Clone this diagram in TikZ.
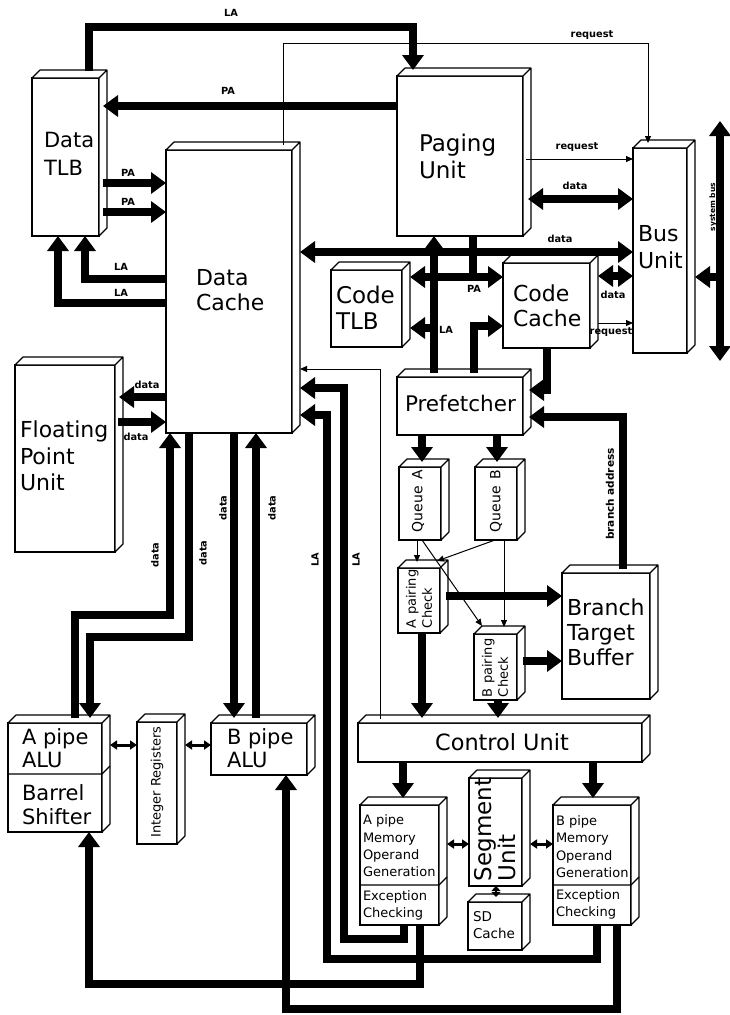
\documentclass[tikz,border=0pt]{standalone}
\usepackage{fontspec}
\setmainfont{DejaVu Sans}
\usetikzlibrary{arrows.meta,calc}
\newcommand\fsz[2]{\fontsize{#1}{#2}\selectfont}
\newcommand\mycube[5]{%
 \pgfmathsetmacro\cw{#4-#2}\pgfmathsetmacro\ch{#5-#3}%
 \node[box,minimum width=\cw pt,minimum height=\ch pt] (#1) at (#2,#3) {};
 \draw[face] (#1.north west) -- ++(8,-8) -- ($(#1.north east)+(8,-8)$) -- ($(#1.south east)+(8,-8)$) -- (#1.south east) -- (#1.north east) -- cycle (#1.north east) -- ++(8,-8);
}
\tikzset{
 big/.tip={Triangle[width=21pt,length=15pt]},
 sml/.tip={Triangle[width=6pt,length=7pt]},
 mid/.tip={Triangle[width=9pt,length=7pt]},
 dia/.tip={Triangle[width=9pt,length=5pt]},
 box/.style={draw,fill=white,line width=1.1pt,inner sep=0pt,outer sep=0pt,anchor=north west},
 face/.style={draw,fill=white,line width=1.1pt,line join=round},
 bus/.style={line width=7.5pt},
 thin1/.style={line width=1pt},
 mid2/.style={line width=3pt},
 lab/.style={inner sep=0pt,outer sep=0pt,align=left,anchor=west},
 sl/.style={font=\bfseries\fsz{9.8}{10},inner sep=0pt},
}
\begin{document}
\begin{tikzpicture}[x=1pt,y=-1pt]
\fill[white] (0,0) rectangle (729,1015);
\useasboundingbox (0,0) rectangle (729,1015);

% ---------- boxes ----------
\mycube{dtlb}{32}{78}{99}{236}
\mycube{dcache}{166}{150}{292}{433}
\mycube{fpu}{15}{365}{115}{552}
\mycube{paging}{397}{76}{523}{236}
\mycube{bus}{633}{148}{687}{353}
\mycube{ctlb}{331}{270}{402}{347}
\mycube{ccache}{503}{263}{590}{348}
\mycube{pref}{397}{377}{523}{435}
\mycube{qa}{399}{467}{441}{540}
\mycube{qb}{475}{467}{517}{540}
\mycube{apc}{398}{568}{440}{633}
\mycube{bpc}{474}{634}{517}{700}
\mycube{btb}{562}{573}{650}{699}
\mycube{cu}{358}{723}{642}{762}
\mycube{amog}{360}{805}{439}{925}
\mycube{seg}{469}{778}{522}{886}
\mycube{sdc}{468}{902}{522}{950}
\mycube{bmog}{553}{805}{631}{925}
\mycube{aalu}{8}{723}{102}{832}
\mycube{ireg}{137}{722}{177}{844}
\mycube{balu}{211}{723}{307}{775}
\draw[line width=1.1pt] (aalu.west |- 0,774) -- (aalu.east |- 0,774) -- ++(8,-8);
\draw[line width=1.1pt] (amog.west |- 0,885) -- (amog.east |- 0,885) -- ++(8,-8);
\draw[line width=1.1pt] (bmog.west |- 0,885) -- (bmog.east |- 0,885) -- ++(8,-8);

% ---------- box texts ----------
\node[lab,font=\fsz{21}{28}] (dtlbT) at (44,154) {Data\\TLB};
\node[lab,font=\fsz{22}{25}] (dcacheT) at (196,290) {Data\\Cache};
\node[lab,font=\fsz{23}{27}] (pagT) at (419,156.5) {Paging\\Unit};
\node[lab,font=\fsz{22}{27}] (busT) at (638,247) {Bus\\Unit};
\node[lab,font=\fsz{22}{26.5}] (fpuT) at (20,456) {Floating\\Point\\Unit};
\node[lab,font=\fsz{23}{26}] (ctlbT) at (336,308) {Code\\TLB};
\node[lab,font=\fsz{22}{25}] (ccacheT) at (513,305.5) {Code\\Cache};
\node[lab,font=\fsz{21.5}{25}] (prefT) at (405,403) {Prefetcher};
\node[inner sep=0pt,font=\fsz{22.4}{25}] (cuT) at (502,742) {Control Unit};
\node[lab,font=\fsz{22}{25}] (btbT) at (567,632) {Branch\\Target\\Buffer};
\node[lab,font=\fsz{21}{23}] (aaluT) at (22,748.5) {A pipe\\ALU};
\node[lab,font=\fsz{21}{24}] (abarT) at (22,805) {Barrel\\Shifter};
\node[lab,font=\fsz{21}{23}] (baluT) at (227,748.5) {B pipe\\ALU};
\node[lab,font=\fsz{13}{17.3}] (amogT) at (363,846) {A pipe\\Memory\\Operand\\Generation};
\node[lab,font=\fsz{13}{17}] (aexcT) at (363,905.5) {Exception\\Checking};
\node[lab,font=\fsz{13}{17.3}] (bmogT) at (556,846.5) {B pipe\\Memory\\Operand\\Generation};
\node[lab,font=\fsz{13}{17}] (bexcT) at (556,904.5) {Exception\\Checking};
\node[lab,font=\fsz{13.5}{17}] (sdcT) at (473,925.5) {SD\\Cache};
\node[inner sep=0pt,rotate=90,font=\fsz{14}{16}] (qaT) at (418,501) {Queue\enspace A};
\node[inner sep=0pt,rotate=90,font=\fsz{14}{16}] (qbT) at (496,501) {Queue\enspace B};
\node[lab,rotate=90,font=\fsz{13}{16}] (apcT) at (419,628) {A pairing\\Check};
\node[lab,rotate=90,font=\fsz{13}{16}] (bpcT) at (495,697) {B pairing\\Check};
\node[lab,rotate=90,font=\fsz{23}{24}] (segT) at (495,881) {Segment\\Unit};
\node[inner sep=0pt,rotate=90,font=\fsz{13}{15}] (iregT) at (157,782) {Integer Registers};

% ---------- connectors ----------
% LA: Data TLB -> Paging Unit
\draw[bus,-big] ($(89,0 |- dtlb.north)+(0,-7)$) -- (89,27) -- (413,27) -- ($(413,0 |- paging.north)+(0,-6)$);
% PA: Paging -> Data TLB
\draw[bus,-big] (paging.west |- 0,106) -- ($(dtlb.east |- 0,106)+(4,0)$);
% request: Data Cache -> Bus Unit
\draw[thin1,-sml] ($(283,0 |- dcache.north)+(0,-5)$) -- (283,43) -- (648,43) -- ($(648,0 |- bus.north)+(0,-5)$);
% PA: Data TLB -> Data Cache
\draw[bus,-big] ($(dtlb.east |- 0,183)+(4,0)$) -- (dcache.west |- 0,183);
\draw[bus,-big] ($(dtlb.east |- 0,212)+(4,0)$) -- (dcache.west |- 0,212);
% LA: Data Cache -> Data TLB
\draw[bus,-big] (dcache.west |- 0,279) -- (85,279) -- (85,0 |- dtlb.south);
\draw[bus,-big] (dcache.west |- 0,303) -- (58,303) -- (58,0 |- dtlb.south);
% Paging <-> Bus
\draw[thin1,-sml] ($(paging.east |- 0,159)+(3,0)$) -- (bus.west |- 0,159);
\draw[bus,big-big] ($(paging.east |- 0,199)+(5,0)$) -- (bus.west |- 0,199);
% data: Data Cache <-> Bus Unit
\draw[bus,big-big] ($(dcache.east |- 0,252)+(8,0)$) -- (bus.west |- 0,252);
% PA: Paging -> Code TLB / Code Cache
\draw[bus] (473,0 |- paging.south) -- (473,277);
\draw[bus,big-big] ($(ctlb.east |- 0,277)+(8,0)$) -- (ccache.west |- 0,277);
% LA: Prefetcher -> Paging, Code TLB
\draw[bus,-big] ($(434,0 |- pref.north)+(0,-4)$) -- (434,0 |- paging.south);
\draw[bus,-big] (434,328) -- ($(ctlb.east |- 0,328)+(8,0)$);
% Prefetcher -> Code Cache
\draw[bus,-big] ($(474,0 |- pref.north)+(0,-4)$) -- (474,326) -- (ccache.west |- 0,326);
% Code Cache <-> Bus Unit
\draw[bus,big-big] ($(ccache.east |- 0,276)+(8,0)$) -- (bus.west |- 0,276);
\draw[thin1,-sml] ($(ccache.east |- 0,323)+(8,0)$) -- (bus.west |- 0,323);
% Code Cache -> Prefetcher
\draw[bus,-big] (547,0 |- ccache.south) -- (547,390) -- ($(pref.east |- 0,390)+(6,0)$);
% branch address
\draw[bus,-big] ($(623,0 |- btb.north)+(0,-4)$) -- (623,417) -- ($(pref.east |- 0,417)+(6,0)$);
% Prefetcher -> Queues
\draw[bus,-big] (422,0 |- pref.south) -- ($(422,0 |- qa.north)+(0,-5)$);
\draw[bus,-big] (497,0 |- pref.south) -- ($(497,0 |- qb.north)+(0,-5)$);
% Queues -> pairing checks
\draw[thin1,-sml] (417,0 |- qa.south) -- ($(417,0 |- apc.north)+(0,-6)$);
\draw[thin1,-sml] (422,0 |- qa.south) -- ($(482,0 |- bpc.north)+(0,-8)$);
\draw[thin1,-sml] (495,0 |- qb.south) -- ($(437,0 |- apc.north)+(0,-7)$);
\draw[thin1,-sml] (504,0 |- qb.south) -- ($(504,0 |- bpc.north)+(0,-7)$);
% pairing checks -> BTB
\draw[bus,-big] ($(apc.east |- 0,596)+(6,0)$) -- (btb.west |- 0,596);
\draw[bus,-big] ($(bpc.east |- 0,661)+(6,0)$) -- (btb.west |- 0,661);
% pairing checks -> Control Unit
\draw[bus,-big] (422,0 |- apc.south) -- ($(422,0 |- cu.north)+(0,-5)$);
\draw[bus,-big] (498,0 |- bpc.south) -- ($(498,0 |- cu.north)+(0,-5)$);
% Control Unit -> MOGs
\draw[bus,-big] (403,0 |- cu.south) -- ($(403,0 |- amog.north)+(0,-7)$);
\draw[bus,-big] (593,0 |- cu.south) -- ($(593,0 |- bmog.north)+(0,-7)$);
% MOG <-> Segment, Segment <-> SD Cache
\draw[mid2,mid-mid] ($(amog.east |- 0,844)+(8,0)$) -- (seg.west |- 0,844);
\draw[mid2,mid-mid] ($(seg.east |- 0,844)+(8,0)$) -- (bmog.west |- 0,844);
\draw[line width=2pt,dia-dia] (496,0 |- seg.south) -- ($(496,0 |- sdc.north)+(0,-5)$);
% ALU <-> Integer Registers
\draw[mid2,mid-mid] ($(aalu.east |- 0,745)+(8,0)$) -- (ireg.west |- 0,745);
\draw[mid2,mid-mid] ($(ireg.east |- 0,745)+(8,0)$) -- (balu.west |- 0,745);
% Control Unit -> Data Cache (thin)
\draw[thin1,-sml] ($(380,0 |- cu.north)+(0,-4)$) -- (380,369) -- ($(dcache.east |- 0,369)+(8,0)$);
% LA: MOGs -> Data Cache
\draw[bus,-big] (404,0 |- amog.south) -- (404,939) -- (344,939) -- (344,388) -- ($(dcache.east |- 0,388)+(8,0)$);
\draw[bus,-big] (597,0 |- bmog.south) -- (597,959) -- (327,959) -- (327,415) -- ($(dcache.east |- 0,415)+(8,0)$);
% MOGs -> ALUs
\draw[bus,-big] (420,0 |- amog.south) -- (420,984) -- (89,984) -- (89,0 |- aalu.south);
\draw[bus,-big] (617,0 |- bmog.south) -- (617,1009) -- (286,1009) -- (286,0 |- balu.south);
% data: ALUs <-> Data Cache
\draw[bus,-big] ($(75,0 |- aalu.north)+(0,-5)$) -- (75,615) -- (170,615) -- (170,0 |- dcache.south);
\draw[bus,-big] (189,0 |- dcache.south) -- (189,637) -- (90,637) -- ($(90,0 |- aalu.north)+(0,-5)$);
\draw[bus,-big] (234,0 |- dcache.south) -- ($(234,0 |- balu.north)+(0,-5)$);
\draw[bus,-big] ($(256,0 |- balu.north)+(0,-5)$) -- (256,0 |- dcache.south);
% data: Data Cache <-> FPU
\draw[bus,-big] (dcache.west |- 0,397) -- ($(fpu.east |- 0,397)+(4,0)$);
\draw[bus,-big] ($(fpu.east |- 0,422)+(3,0)$) -- (dcache.west |- 0,422);
% system bus
\coordinate (sbtop) at (720,121);
\coordinate (sbbot) at (720,361);
\coordinate (sbmid) at (720,277);
\draw[bus,big-big] (sbtop) -- (sbbot);
\draw[bus,-big] (sbmid) -- ($(bus.east |- sbmid)+(8,0)$);

% ---------- connector labels ----------
\node[sl] (laTop) at (231,13) {LA};
\node[sl] (paTop) at (228,91) {PA};
\node[sl] (reqTop) at (592,35) {request};
\node[sl] (pa1) at (128,173) {PA};
\node[sl] (pa2) at (128,202) {PA};
\node[sl] (la1) at (121,267) {LA};
\node[sl] (la2) at (121,293) {LA};
\node[sl] (req1) at (577,147) {request};
\node[sl] (d1) at (575,186) {data};
\node[sl] (d2) at (560,239) {data};
\node[sl] (paC) at (474,289) {PA};
\node[sl] (laC) at (446,330) {LA};
\node[sl] (d3) at (613,295) {data};
\node[sl] (req2) at (611,332) {request};
\node[sl] (df1) at (147,385) {data};
\node[sl] (df2) at (136,437) {data};
\node[sl,rotate=90] (dv1) at (155,555) {data};
\node[sl,rotate=90] (dv2) at (203,553) {data};
\node[sl,rotate=90] (dv3) at (223,508) {data};
\node[sl,rotate=90] (dv4) at (272,508) {data};
\node[sl,rotate=90] (lav1) at (315,560) {LA};
\node[sl,rotate=90] (lav2) at (356,560) {LA};
\node[sl,rotate=90,font=\bfseries\fsz{10.5}{11}] (ba) at (610,494) {branch address};
\node[sl,rotate=90,font=\bfseries\fsz{7.5}{8}] (sb) at (713,207) {system bus};
\end{tikzpicture}
\end{document}
